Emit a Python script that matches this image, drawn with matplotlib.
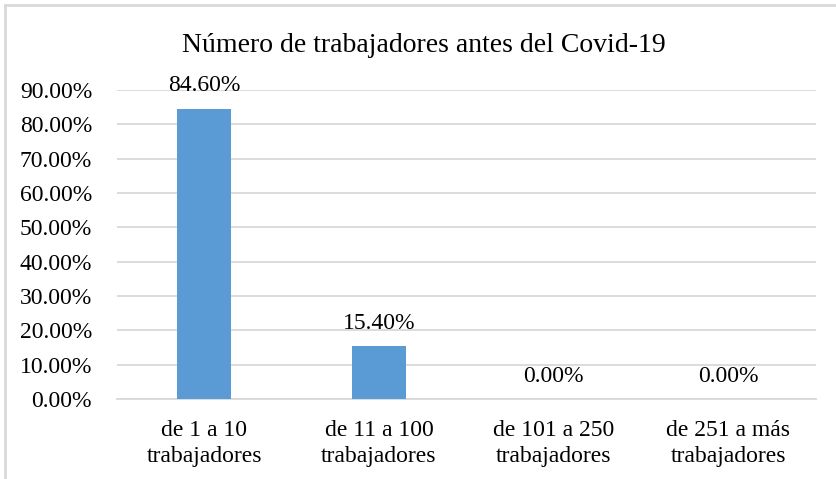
import matplotlib
matplotlib.use("Agg")
import matplotlib.pyplot as plt
from matplotlib.lines import Line2D
from matplotlib.ticker import FuncFormatter, MultipleLocator

categories = ["de 1 a 10\ntrabajadores", "de 11 a 100\ntrabajadores",
              "de 101 a 250\ntrabajadores", "de 251 a más\ntrabajadores"]
values = [84.60, 15.40, 0.00, 0.00]
title = "Número de trabajadores antes del Covid-19"

plt.rcParams['font.family'] = ['Liberation Serif', 'DejaVu Serif']

fig = plt.figure(figsize=(8.36, 4.79), dpi=100)
ax = fig.add_axes([117/836, 1-399/479, (815.7-117)/836, (399-90)/479])

x = list(range(len(categories)))
bars = ax.bar(x, values, width=0.31, color="#5B9BD5", zorder=3)
ax.set_xlim(-0.5, len(categories)-0.5)
ax.set_ylim(0, 90)
ax.yaxis.set_major_locator(MultipleLocator(10))
ax.yaxis.set_major_formatter(FuncFormatter(lambda v, p: f"{v:.2f}%"))
ax.grid(axis='y', color="#d9d9d9", linewidth=1.3, zorder=0)
ax.set_axisbelow(True)
for s in ["top", "right", "left"]:
    ax.spines[s].set_visible(False)
ax.spines["bottom"].set_color("#d9d9d9")
ax.spines["bottom"].set_linewidth(1.3)
ax.tick_params(axis='both', length=0, labelsize=17, colors="black")
ax.tick_params(axis='y', pad=18)
ax.tick_params(axis='x', pad=15)
ax.set_xticks(x)
ax.set_xticklabels(categories, linespacing=1.35)

for xi, v in zip(x, values):
    ax.annotate(f"{v:.2f}%", (xi, v), xytext=(0, 9), textcoords="offset points",
                ha="center", va="bottom", fontsize=17)

fig.text(424/836, 1-52/479, title, ha="center", va="baseline", fontsize=20)

# chart border (left and top)
fig.add_artist(Line2D([5/836, 5/836], [0, 1-4.5/479], transform=fig.transFigure,
                      color="#d9d9d9", linewidth=2))
fig.add_artist(Line2D([5/836, 1], [1-4.5/479, 1-4.5/479], transform=fig.transFigure,
                      color="#d9d9d9", linewidth=2))

fig.savefig("out.png", dpi=100)
